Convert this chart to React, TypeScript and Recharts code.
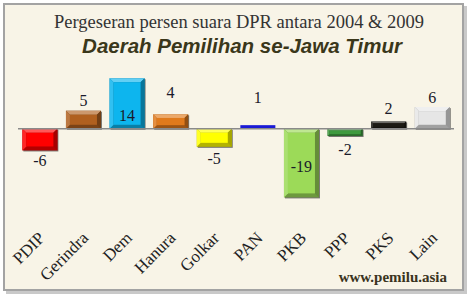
import { Bar, ComposedChart, LabelList, Line, ReferenceLine, XAxis, YAxis } from "recharts";

const parties = ["PDIP", "Gerindra", "Dem", "Hanura", "Golkar", "PAN", "PKB", "PPP", "PKS", "Lain"];
const shift = [-6, 5, 14, 4, -5, 1, -19, -2, 2, 6];
// where each value label sits, in the same units as the bars (as placed in the original)
const labelAt = [-8.6, 7.8, 3.6, 10, -8.3, 8.6, -10.3, -5.8, 5.6, 8.6];

const COLORS = ["#ff0000", "#b0601f", "#0db5ee", "#e07a1c", "#ffff00", "#1a1ad6", "#9cda58", "#3e9a3e", "#1c1a14", "#e6e6e6"];

const data = parties.map((name, i) => ({ name, value: shift[i], labelAt: labelAt[i] }));

const shade = (hex: string, f: number) => {
  const n = parseInt(hex.slice(1), 16);
  const ch = [(n >> 16) & 255, (n >> 8) & 255, n & 255].map((c) =>
    Math.round(f < 0 ? c * (1 + f) : c + (255 - c) * f)
  );
  return `rgb(${ch[0]},${ch[1]},${ch[2]})`;
};

const BevelBar = (props: any) => {
  let { x, y, width, height, index } = props;
  if (height < 0) {
    y = y + height;
    height = -height;
  }
  const c = COLORS[index];
  if (height < 6) {
    return <rect x={x} y={y} width={width} height={height} fill={c} />;
  }
  const b = Math.min(4, height / 4);
  return (
    <g>
      <rect x={x + 1} y={y + 1} width={width} height={height} fill="#222" opacity={0.6} />
      <rect x={x} y={y} width={width} height={height} fill={shade(c, -0.3)} />
      <polygon points={`${x},${y} ${x + width},${y} ${x + width - b},${y + b} ${x + b},${y + b}`} fill={shade(c, 0.35)} />
      <polygon points={`${x},${y} ${x + b},${y + b} ${x + b},${y + height - b} ${x},${y + height}`} fill={shade(c, 0.15)} />
      <polygon points={`${x + width},${y} ${x + width},${y + height} ${x + width - b},${y + height - b} ${x + width - b},${y + b}`} fill={shade(c, -0.35)} />
      <rect x={x + b} y={y + b} width={width - 2 * b} height={height - 2 * b} fill={c} />
    </g>
  );
};

const PartyTick = (props: any) => {
  const { x, y, payload } = props;
  const ax = x + 6;
  const ay = y + 30;
  return (
    <text
      x={ax}
      y={ay}
      transform={`rotate(-45, ${ax}, ${ay})`}
      textAnchor="end"
      fontFamily="'Liberation Serif', serif"
      fontSize={17}
      fill="#222"
    >
      {payload.value}
    </text>
  );
};

export default function App() {
  return (
    <div style={{ position: "absolute", left: 0, top: 0, width: 469, height: 297, background: "#fff" }}>
      <div
        style={{
          position: "absolute",
          left: 3,
          top: 3,
          width: 457,
          height: 284,
          border: "2px solid #a3a3a3",
          background: "#f8f4e7",
          boxShadow: "3px 3px 0 #c9c9c9",
        }}
      />
      <svg width={469} height={297} style={{ position: "absolute", left: 0, top: 0 }}>
        <text x={239} y={28} textAnchor="middle" fontFamily="'Liberation Serif', serif" fontSize={18.5} fill="#333">
          Pergeseran persen suara DPR antara 2004 &amp; 2009
        </text>
        <text
          x={242}
          y={53}
          textAnchor="middle"
          fontFamily="'Liberation Sans', sans-serif"
          fontWeight="bold"
          fontStyle="italic"
          fontSize={20.5}
          fill="#3a371a"
        >
          Daerah Pemilihan se-Jawa Timur
        </text>
        <text
          x={447}
          y={282}
          textAnchor="end"
          fontFamily="'Liberation Serif', serif"
          fontWeight="bold"
          fontSize={15}
          fill="#3a3320"
        >
          www.pemilu.asia
        </text>
      </svg>
      <div style={{ position: "absolute", left: 0, top: 0 }}>
        <ComposedChart
          width={469}
          height={297}
          data={data}
          margin={{ top: 71, right: 15, bottom: 36, left: 18 }}
          barCategoryGap="10%"
        >
          <XAxis dataKey="name" axisLine={false} tickLine={false} height={60} interval={0} tick={<PartyTick />} />
          <YAxis hide domain={[-20, 16]} />
          <ReferenceLine y={0} stroke="#8a8a8a" strokeWidth={1.5} />
          <Bar dataKey="value" shape={<BevelBar />} isAnimationActive={false} />
          <Line dataKey="labelAt" stroke="none" dot={false} activeDot={false} isAnimationActive={false}>
            <LabelList
              dataKey="value"
              position="center"
              fontFamily="'Liberation Serif', serif"
              fontSize={16}
              fill="#1a1a2a"
            />
          </Line>
        </ComposedChart>
      </div>
    </div>
  );
}
